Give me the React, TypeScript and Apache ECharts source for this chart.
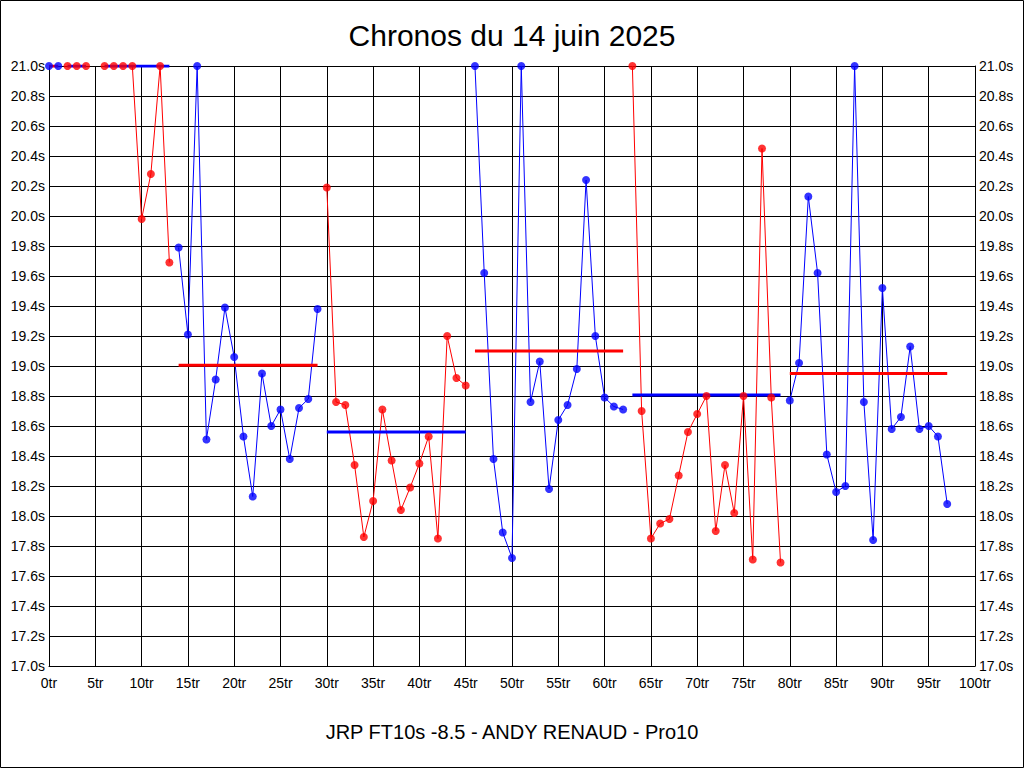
import React, { useEffect, useRef } from "react";
import * as echarts from "echarts";

const titleText = "Chronos du 14 juin 2025";
const subtitleText = "JRP FT10s -8.5 - ANDY RENAUD - Pro10";

// lap times (s) for laps 0..97, null = no lap recorded; values above 21.0 shown at 21.0
const lapTimes: (number | null)[] = [
  21.0, 21.0, 21.0, 21.0, 21.0, null, 21.0, 21.0, 21.0, 21.0,
  19.98, 20.28, 21.0, 19.69, 19.79, 19.21, 21.0, 18.51, 18.91, 19.39,
  19.06, 18.53, 18.13, 18.95, 18.6, 18.71, 18.38, 18.72, 18.78, 19.38,
  20.19, 18.76, 18.74, 18.34, 17.86, 18.1, 18.71, 18.37, 18.04, 18.19,
  18.35, 18.53, 17.85, 19.2, 18.92, 18.87, 21.0, 19.62, 18.38, 17.89,
  17.72, 21.0, 18.76, 19.03, 18.18, 18.64, 18.74, 18.98, 20.24, 19.2,
  18.79, 18.73, 18.71, 21.0, 18.7, 17.85, 17.95, 17.98, 18.27, 18.56,
  18.68, 18.8, 17.9, 18.34, 18.02, 18.8, 17.71, 20.45, 18.79, 17.69,
  18.77, 19.02, 20.13, 19.62, 18.41, 18.16, 18.2, 21.0, 18.76, 17.84,
  19.52, 18.58, 18.66, 19.13, 18.58, 18.6, 18.53, 18.08,
];

const segmentStarts = [0, 2, 6, 14, 30, 46, 63, 80];
const segmentEnds = [1, 4, 13, 29, 45, 62, 79, 97];
const segmentColors = ["blue", "red", "red", "blue", "red", "blue", "red", "blue"];
const segmentAverages = [21.0, 21.0, 21.0, 19.005, 18.56, 19.1, 18.807, 18.95];

const COLORS: Record<string, string> = { red: "#ff0000", blue: "#0000ff" };
const FONT = "'Liberation Sans', Arial, sans-serif";

export default function App() {
  const ref = useRef<HTMLDivElement>(null);

  useEffect(() => {
    if (!ref.current) return;
    const chart = echarts.init(ref.current, undefined, { renderer: "svg" });

    const series: any[] = [];
    segmentStarts.forEach((s, i) => {
      const e = segmentEnds[i];
      const pts: [number, number][] = [];
      for (let lap = s; lap <= e; lap++) {
        const v = lapTimes[lap];
        if (v !== null && v !== undefined) pts.push([lap, v]);
      }
      const col = COLORS[segmentColors[i]];
      const avgCol = segmentColors[i] === "red" ? COLORS.blue : COLORS.red;
      series.push({
        type: "line",
        data: pts,
        showSymbol: false,
        lineStyle: { color: col, width: 1 },
        z: 2,
        silent: true,
      });
      series.push({
        type: "line",
        data: [
          [s, segmentAverages[i]],
          [e, segmentAverages[i]],
        ],
        showSymbol: false,
        lineStyle: { color: avgCol, width: 3 },
        z: 3,
        silent: true,
      });
      series.push({
        type: "scatter",
        data: pts,
        symbol: "circle",
        symbolSize: 8,
        itemStyle: { color: col },
        z: 4,
        silent: true,
      });
    });

    const yLabel = (v: number) => v.toFixed(1) + "s";

    chart.setOption({
      animation: false,
      backgroundColor: "#ffffff",
      textStyle: { fontFamily: FONT },
      title: [
        {
          text: titleText,
          left: "center",
          top: 20,
          padding: 0,
          textStyle: { fontSize: 30, fontWeight: "normal", color: "#000", fontFamily: FONT },
        },
        {
          text: subtitleText,
          left: "center",
          top: 722,
          padding: 0,
          textStyle: { fontSize: 20, fontWeight: "normal", color: "#000", fontFamily: FONT },
        },
      ],
      graphic: [
        {
          type: "rect",
          shape: { x: 0.5, y: 0.5, width: 1023, height: 767 },
          style: { fill: "none", stroke: "#000", lineWidth: 1 },
          silent: true,
        },
      ],
      grid: { left: 49, right: 49, top: 66, bottom: 102, containLabel: false },
      xAxis: {
        type: "value",
        min: 0,
        max: 100,
        interval: 5,
        axisLine: { show: true, lineStyle: { color: "#000", width: 1 } },
        axisTick: { show: false },
        splitLine: { show: true, lineStyle: { color: "#000", width: 1 } },
        axisLabel: {
          formatter: "{value}tr",
          color: "#000",
          fontSize: 14,
          margin: 10,
          fontFamily: FONT,
          showMaxLabel: true,
          showMinLabel: true,
        },
      },
      yAxis: [
        {
          type: "value",
          min: 17,
          max: 21,
          interval: 0.2,
          position: "left",
          axisLine: { show: true, lineStyle: { color: "#000", width: 1 } },
          axisTick: { show: false },
          splitLine: { show: true, lineStyle: { color: "#000", width: 1 } },
          axisLabel: { formatter: yLabel, color: "#000", fontSize: 14, margin: 4, fontFamily: FONT },
        },
        {
          type: "value",
          min: 17,
          max: 21,
          interval: 0.2,
          position: "right",
          axisLine: { show: true, lineStyle: { color: "#000", width: 1 } },
          axisTick: { show: false },
          splitLine: { show: false },
          axisLabel: { formatter: yLabel, color: "#000", fontSize: 14, margin: 4, fontFamily: FONT },
        },
      ],
      series,
    });

    return () => chart.dispose();
  }, []);

  return (
    <div
      ref={ref}
      style={{ position: "fixed", left: 0, top: 0, width: 1024, height: 768, background: "#fff" }}
    />
  );
}
